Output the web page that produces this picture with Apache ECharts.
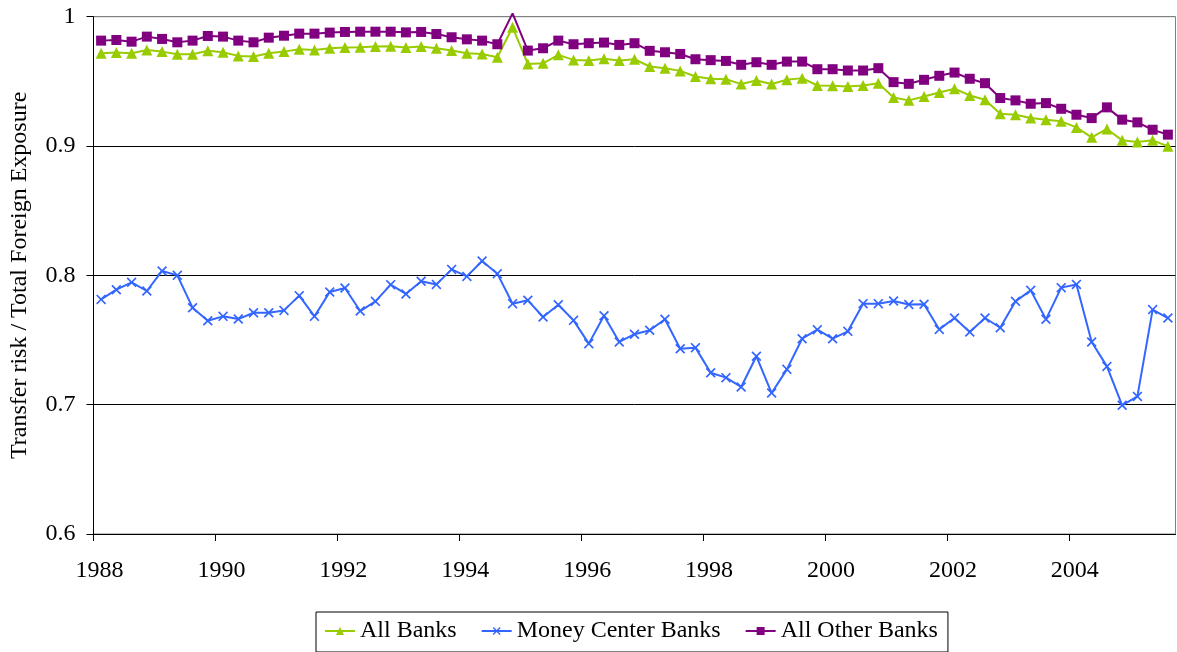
<!DOCTYPE html>
<html>
<head>
<meta charset="utf-8">
<script src="https://cdn.jsdelivr.net/npm/echarts@6/dist/echarts.min.js"></script>
<style>
html,body{margin:0;padding:0;background:#fff;}
#chart{width:1177px;height:652px;}
</style>
</head>
<body>
<div id="chart"></div>
<script>
// Quarterly observations, 1988Q1 .. 2005Q3 (plotted at mid-quarter)
const startYear = 1988;
const quarterCount = 71;
const xTickLabels = ['1988','1990','1992','1994','1996','1998','2000','2002','2004'];
const seriesNames = ['All Banks', 'Money Center Banks', 'All Other Banks'];

const allBanks = [
  0.9718,0.9723,0.9718,0.9743,0.9730,0.9710,0.9710,0.9736,0.9725,0.9697,
  0.9692,0.9718,0.9730,0.9748,0.9743,0.9756,0.9761,0.9764,0.9769,0.9771,
  0.9761,0.9769,0.9756,0.9738,0.9718,0.9712,0.9687,0.9918,0.9635,0.9640,
  0.9705,0.9666,0.9661,0.9674,0.9661,0.9671,0.9615,0.9602,0.9581,0.9538,
  0.9520,0.9517,0.9479,0.9507,0.9479,0.9512,0.9525,0.9468,0.9466,0.9461,
  0.9468,0.9486,0.9376,0.9353,0.9383,0.9414,0.9443,0.9391,0.9358,0.9250,
  0.9242,0.9216,0.9204,0.9191,0.9144,0.9067,0.9132,0.9044,0.9031,0.9044,
  0.8998
];
const moneyCenterBanks = [
  0.7814,0.7889,0.7946,0.7879,0.8034,0.8000,0.7750,0.7649,0.7683,0.7662,
  0.7711,0.7711,0.7729,0.7843,0.7683,0.7871,0.7902,0.7724,0.7799,0.7928,
  0.7856,0.7954,0.7930,0.8046,0.7992,0.8111,0.8013,0.7781,0.7807,0.7678,
  0.7773,0.7652,0.7472,0.7688,0.7485,0.7545,0.7575,0.7660,0.7433,0.7441,
  0.7247,0.7209,0.7137,0.7374,0.7090,0.7273,0.7510,0.7580,0.7510,0.7567,
  0.7781,0.7781,0.7802,0.7775,0.7776,0.7582,0.7670,0.7562,0.7670,0.7595,
  0.7799,0.7884,0.7660,0.7905,0.7930,0.7485,0.7296,0.6995,0.7064,0.7735,
  0.7670
];
const allOtherBanks = [
  0.9815,0.9820,0.9807,0.9846,0.9828,0.9802,0.9815,0.9851,0.9846,0.9815,
  0.9802,0.9838,0.9853,0.9869,0.9869,0.9877,0.9882,0.9884,0.9884,0.9884,
  0.9879,0.9882,0.9866,0.9841,0.9825,0.9815,0.9787,1.0026,0.9738,0.9756,
  0.9815,0.9787,0.9795,0.9800,0.9782,0.9795,0.9736,0.9725,0.9712,0.9671,
  0.9664,0.9658,0.9628,0.9648,0.9628,0.9653,0.9653,0.9594,0.9594,0.9584,
  0.9584,0.9602,0.9494,0.9481,0.9512,0.9543,0.9568,0.9520,0.9486,0.9371,
  0.9353,0.9327,0.9332,0.9288,0.9242,0.9216,0.9299,0.9204,0.9183,0.9126,
  0.9088
];

const quarterPos = [];
for (let i = 0; i < quarterCount; i++) quarterPos.push(startYear + 0.125 + i * 0.25);

function pairs(vals, hideAbove) {
  return vals.map((v, i) => {
    const item = { value: [quarterPos[i], v] };
    if (hideAbove !== undefined && v > hideAbove) item.symbol = 'none';
    return item;
  });
}

const FONT = "'Liberation Serif','Times New Roman',serif";
const xPath = 'path://M0,1.2 L1.2,0 L5,3.8 L8.8,0 L10,1.2 L6.2,5 L10,8.8 L8.8,10 L5,6.2 L1.2,10 L0,8.8 L3.8,5 Z';

const chart = echarts.init(document.getElementById('chart'), null, { renderer: 'canvas' });
chart.setOption({
  animation: false,
  backgroundColor: '#fff',
  textStyle: { fontFamily: FONT },
  grid: {
    left: 93.5, right: 1.5, top: 16.7, bottom: 118,
    show: true, borderColor: '#808080', borderWidth: 1, backgroundColor: 'transparent',
    containLabel: false,
    outerBoundsMode: 'none'
  },
  legend: {
    left: 316, top: 612,
    padding: [7, 10, 9, 8],
    borderColor: '#000', borderWidth: 1,
    itemGap: 24, itemWidth: 30, itemHeight: 10,
    textStyle: { fontSize: 24, color: '#000', fontFamily: FONT },
    data: seriesNames
  },
  xAxis: {
    type: 'value', min: 1988, max: 2005.75, interval: 2,
    axisLine: { show: true, onZero: false, lineStyle: { color: '#000', width: 1 } },
    axisTick: { show: true, length: 7, inside: false, lineStyle: { color: '#000' } },
    splitLine: { show: false },
    axisLabel: {
      fontSize: 24, color: '#000', fontFamily: FONT, margin: 25,
      padding: [0, 0, 0, 12],
      showMaxLabel: false,
      formatter: v => (Math.abs(v % 2) < 1e-9 && xTickLabels.indexOf(String(v)) >= 0) ? String(v) : ''
    }
  },
  yAxis: {
    type: 'value', min: 0.6, max: 1, interval: 0.1,
    name: 'Transfer risk / Total Foreign Exposure',
    nameLocation: 'middle', nameGap: 62, nameRotate: 90,
    nameTextStyle: { fontSize: 24, color: '#000', fontFamily: FONT },
    axisLine: { show: true, lineStyle: { color: '#000', width: 1 } },
    axisTick: { show: true, length: 7, lineStyle: { color: '#000' } },
    splitLine: { show: true, lineStyle: { color: ['#000', '#000', '#000', '#000', '#808080'], width: 1 } },
    axisLabel: {
      fontSize: 24, color: '#000', fontFamily: FONT, margin: 18,
      formatter: v => (Math.abs(v - 1) < 1e-9 ? '1' : v.toFixed(1))
    }
  },
  series: [
    {
      name: seriesNames[0], type: 'line', data: pairs(allBanks),
      color: '#99CC00', symbol: 'triangle', symbolSize: 11,
      lineStyle: { width: 2, color: '#99CC00' }, itemStyle: { color: '#99CC00' },
      clip: false, z: 3
    },
    {
      name: seriesNames[1], type: 'line', data: pairs(moneyCenterBanks),
      color: '#3366FF', symbol: xPath, symbolSize: 10,
      lineStyle: { width: 2, color: '#3366FF' }, itemStyle: { color: '#3366FF' },
      clip: false, z: 3
    },
    {
      name: seriesNames[2], type: 'line', data: pairs(allOtherBanks, 1),
      color: '#800080', symbol: 'rect', symbolSize: 10,
      lineStyle: { width: 2, color: '#800080' }, itemStyle: { color: '#800080' },
      clip: false, z: 4
    }
  ]
});
</script>
</body>
</html>
